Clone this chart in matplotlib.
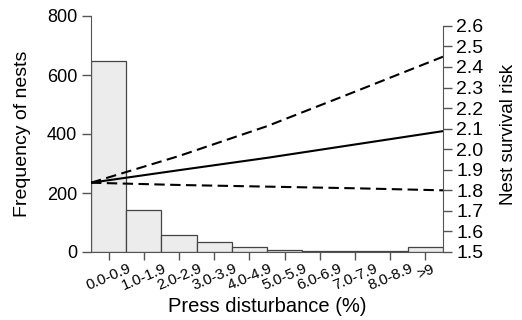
import matplotlib.pyplot as plt
from matplotlib.transforms import ScaledTranslation

plt.rcParams['font.family'] = ['Liberation Sans', 'DejaVu Sans']

# histogram of press disturbance classes
classes = ["0.0-0.9", "1.0-1.9", "2.0-2.9", "3.0-3.9", "4.0-4.9",
           "5.0-5.9", "6.0-6.9", "7.0-7.9", "8.0-8.9", ">9"]
counts = [647, 143, 57, 33, 18, 6, 5, 2, 2, 16]

# nest survival risk curves (estimate with upper / lower bounds)
risk_x = [0, 2.5, 5, 7.5, 10]
risk_fit = [1.837, 1.898, 1.958, 2.023, 2.088]
risk_upper = [1.837, 1.967, 2.112, 2.28, 2.45]
risk_lower = [1.837, 1.826, 1.818, 1.81, 1.80]

axis_col = "#555555"

fig, ax = plt.subplots(figsize=(5.22, 3.2), dpi=100)
fig.subplots_adjust(left=91 / 522, right=443 / 522, bottom=1 - 252 / 320, top=1 - 16 / 320)

pos = [i + 0.5 for i in range(len(classes))]
ax.bar(pos, counts, width=1.0, color="#ececec", edgecolor="#444444", linewidth=0.9)
ax.set_xlim(0, 10)
ax.set_ylim(0, 800)
ax.set_yticks([0, 200, 400, 600, 800])
ax.set_xticks(pos)
ax.set_xticklabels(classes, rotation=23, ha="center", fontsize=11)
# nudge the slanted labels a little right, as in the original
shift = ScaledTranslation(5 / 100, 0, fig.dpi_scale_trans)
for lab in ax.get_xticklabels():
    lab.set_transform(lab.get_transform() + shift)
ax.tick_params(axis="y", labelsize=13, length=6.5, color=axis_col, width=1)
ax.tick_params(axis="x", length=6, color=axis_col, width=1, pad=1)
ax.set_ylabel("Frequency of nests", fontsize=14, labelpad=11)
ax.set_xlabel("Press disturbance (%)", fontsize=14.5, labelpad=3)
for s in ["top", "right"]:
    ax.spines[s].set_visible(False)
for s in ["left", "bottom"]:
    ax.spines[s].set_color(axis_col)

ax2 = ax.twinx()
ax2.plot(risk_x, risk_fit, color="black", lw=1.5)
ax2.plot(risk_x, risk_upper, color="black", lw=1.5, dashes=(5, 2.6))
ax2.plot(risk_x, risk_lower, color="black", lw=1.5, dashes=(5, 2.6))
ax2.set_ylim(1.5, 2.648)
ax2.set_yticks([1.5 + 0.1 * i for i in range(12)])
ax2.set_yticklabels([f"{1.5 + 0.1 * i:.1f}" for i in range(12)])
ax2.tick_params(axis="y", labelsize=14, length=6.5, color=axis_col, width=1, pad=3)
ax2.set_ylabel("Nest survival risk", fontsize=13.5, labelpad=12)
for s in ["top", "left", "bottom"]:
    ax2.spines[s].set_visible(False)
ax2.spines["right"].set_color(axis_col)
ax2.spines["right"].set_bounds(1.5, 2.6)

fig.savefig("out.png", dpi=100)
